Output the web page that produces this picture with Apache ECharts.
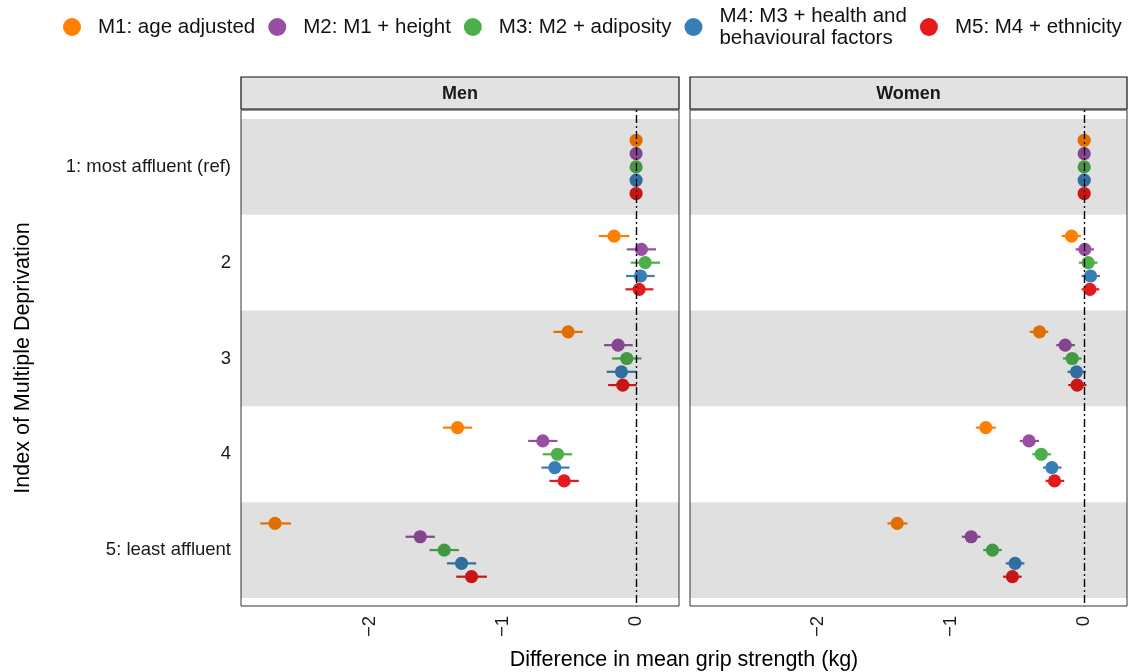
<!DOCTYPE html>
<html>
<head>
<meta charset="utf-8">
<script src="https://cdn.jsdelivr.net/npm/echarts@6/dist/echarts.min.js"></script>
<style>
  html, body { margin: 0; padding: 0; background: #ffffff; }
  #chart { width: 1128px; height: 672px; }
</style>
</head>
<body>
<div id="chart"></div>
<script>
// Deprivation groups (top to bottom) and model labels
const groups = ['1: most affluent (ref)', '2', '3', '4', '5: least affluent'];
const models = [
  'M1: age adjusted',
  'M2: M1 + height',
  'M3: M2 + adiposity',
  'M4: M3 + health and\nbehavioural factors',
  'M5: M4 + ethnicity'
];
const modelColors = ['#FF7F00', '#984EA3', '#4DAF4A', '#377EB8', '#E41A1C'];
const panels = ['Men', 'Women'];
const xTicks = [-2, -1, 0];

// Men: estimate, lower and upper 95% CI per model (rows) and group (columns)
const menEst = [
  [0, -0.165, -0.51, -1.34, -2.71],
  [0, 0.04, -0.135, -0.70, -1.62],
  [0, 0.068, -0.07, -0.59, -1.44],
  [0, 0.033, -0.11, -0.61, -1.31],
  [0, 0.023, -0.10, -0.54, -1.235]
];
const menLow = [
  [0, -0.28, -0.62, -1.45, -2.82],
  [0, -0.07, -0.24, -0.81, -1.73],
  [0, -0.04, -0.18, -0.70, -1.55],
  [0, -0.075, -0.22, -0.71, -1.42],
  [0, -0.08, -0.21, -0.65, -1.35]
];
const menHigh = [
  [0, -0.05, -0.40, -1.23, -2.59],
  [0, 0.15, -0.025, -0.59, -1.51],
  [0, 0.18, 0.04, -0.48, -1.33],
  [0, 0.14, 0.0, -0.50, -1.20],
  [0, 0.13, 0.005, -0.43, -1.12]
];

// Women: estimate, lower and upper 95% CI
const womenEst = [
  [0, -0.095, -0.336, -0.74, -1.406],
  [0, 0.005, -0.143, -0.415, -0.85],
  [0, 0.03, -0.09, -0.323, -0.69],
  [0, 0.048, -0.058, -0.243, -0.52],
  [0, 0.043, -0.053, -0.223, -0.54]
];
const womenLow = [
  [0, -0.17, -0.41, -0.815, -1.48],
  [0, -0.065, -0.21, -0.485, -0.92],
  [0, -0.04, -0.16, -0.39, -0.76],
  [0, -0.02, -0.125, -0.31, -0.59],
  [0, -0.02, -0.12, -0.29, -0.61]
];
const womenHigh = [
  [0, -0.025, -0.27, -0.665, -1.33],
  [0, 0.073, -0.07, -0.34, -0.78],
  [0, 0.10, -0.02, -0.25, -0.62],
  [0, 0.118, 0.013, -0.17, -0.45],
  [0, 0.113, 0.017, -0.15, -0.47]
];

const FONT = '"Liberation Sans", Arial, Helvetica, sans-serif';
const dodge = 0.139;            // vertical spacing between models inside a group
const panelData = [
  { est: menEst, low: menLow, high: menHigh },
  { est: womenEst, low: womenLow, high: womenHigh }
];

const gridBoxes = [
  { left: 241, top: 110, width: 438, height: 496 },
  { left: 690, top: 110, width: 437, height: 496 }
];

function renderPoint(params, api) {
  const yv = api.value(3);
  const c = api.coord([api.value(0), yv]);
  const lo = api.coord([api.value(1), yv]);
  const hi = api.coord([api.value(2), yv]);
  const color = api.visual('color');
  return {
    type: 'group',
    children: [
      { type: 'line', shape: { x1: lo[0], y1: c[1], x2: hi[0], y2: c[1] },
        style: { stroke: color, lineWidth: 2.2 } },
      { type: 'circle', shape: { cx: c[0], cy: c[1], r: 6.6 },
        style: { fill: color } }
    ]
  };
}

const series = [];
panelData.forEach((pd, p) => {
  models.forEach((m, k) => {
    const data = groups.map((g, i) => [
      pd.est[k][i], pd.low[k][i], pd.high[k][i], i + 1 + (k - 2) * dodge
    ]);
    series.push({
      type: 'custom',
      name: m,
      xAxisIndex: p,
      yAxisIndex: p,
      z: 2,
      itemStyle: { color: modelColors[k] },
      encode: { x: [0, 1, 2], y: 3 },
      renderItem: renderPoint,
      data: data
    });
  });
  // shaded bands for alternating groups and the reference line at zero
  series.push({
    type: 'line',
    name: 'bands' + p,
    xAxisIndex: p,
    yAxisIndex: p,
    data: [],
    silent: true,
    markArea: {
      silent: true,
      z: 5,
      itemStyle: { color: 'rgba(0,0,0,0.12)' },
      data: [1, 3, 5].map(g => [{ yAxis: g - 0.5 }, { yAxis: g + 0.5 }])
    },
    markLine: {
      silent: true,
      z: 6,
      symbol: 'none',
      label: { show: false },
      lineStyle: { color: '#000', width: 1.4, type: [2, 3, 8, 3] },
      data: [{ xAxis: 0 }]
    }
  });
});

const xAxes = gridBoxes.map((g, p) => ({
  type: 'value',
  gridIndex: p,
  min: -2.965,
  max: 0.322,
  splitLine: { show: false },
  axisLine: { show: false },
  axisTick: { show: false },
  axisLabel: {
    customValues: xTicks,
    rotate: 90,
    margin: 10,
    color: '#1a1a1a',
    fontSize: 18.5,
    fontFamily: FONT,
    formatter: v => (v < 0 ? '\u2212' + Math.abs(v) : String(v))
  }
}));

const yAxes = gridBoxes.map((g, p) => ({
  type: 'value',
  gridIndex: p,
  inverse: true,
  min: 0.406,
  max: 5.584,
  splitLine: { show: false },
  axisLine: { show: false },
  axisTick: { show: false },
  axisLabel: {
    show: p === 0,
    customValues: [1, 2, 3, 4, 5],
    margin: 10,
    color: '#1a1a1a',
    fontSize: 18.5,
    fontFamily: FONT,
    formatter: v => groups[Math.round(v) - 1]
  }
}));

const graphics = [];
gridBoxes.forEach((g, p) => {
  graphics.push({
    type: 'rect',
    shape: { x: g.left, y: 77, width: g.width, height: 32 },
    style: { fill: '#e2e2e2', stroke: '#111', lineWidth: 1.2 },
    silent: true
  });
  graphics.push({
    type: 'text',
    x: g.left + g.width / 2,
    y: 94,
    style: {
      text: panels[p], fill: '#1a1a1a', font: 'bold 18px ' + FONT,
      align: 'center', verticalAlign: 'middle'
    },
    silent: true
  });
});
graphics.push({
  type: 'text',
  x: 684, y: 660,
  style: {
    text: 'Difference in mean grip strength (kg)', fill: '#000',
    font: '21.5px ' + FONT, align: 'center', verticalAlign: 'middle'
  }
});
graphics.push({
  type: 'text',
  x: 23, y: 358,
  rotation: Math.PI / 2,
  style: {
    text: 'Index of Multiple Deprivation', fill: '#000',
    font: '21.5px ' + FONT, align: 'center', verticalAlign: 'middle'
  }
});

const chart = echarts.init(document.getElementById('chart'), null, { renderer: 'canvas' });
chart.setOption({
  animation: false,
  backgroundColor: '#ffffff',
  textStyle: { fontFamily: FONT },
  legend: {
    data: models.map((m, k) => ({ name: m, icon: 'circle', itemStyle: { color: modelColors[k] } })),
    left: 58,
    top: 0,
    itemWidth: 42,
    itemHeight: 18,
    itemGap: 13,
    selectedMode: false,
    textStyle: { fontSize: 20.5, color: '#111', fontFamily: FONT, lineHeight: 22 }
  },
  grid: gridBoxes.map(g => ({
    left: g.left, top: g.top, width: g.width, height: g.height,
    show: true, borderColor: '#333', borderWidth: 1, backgroundColor: '#fff'
  })),
  xAxis: xAxes,
  yAxis: yAxes,
  series: series,
  graphic: graphics
});
</script>
</body>
</html>
